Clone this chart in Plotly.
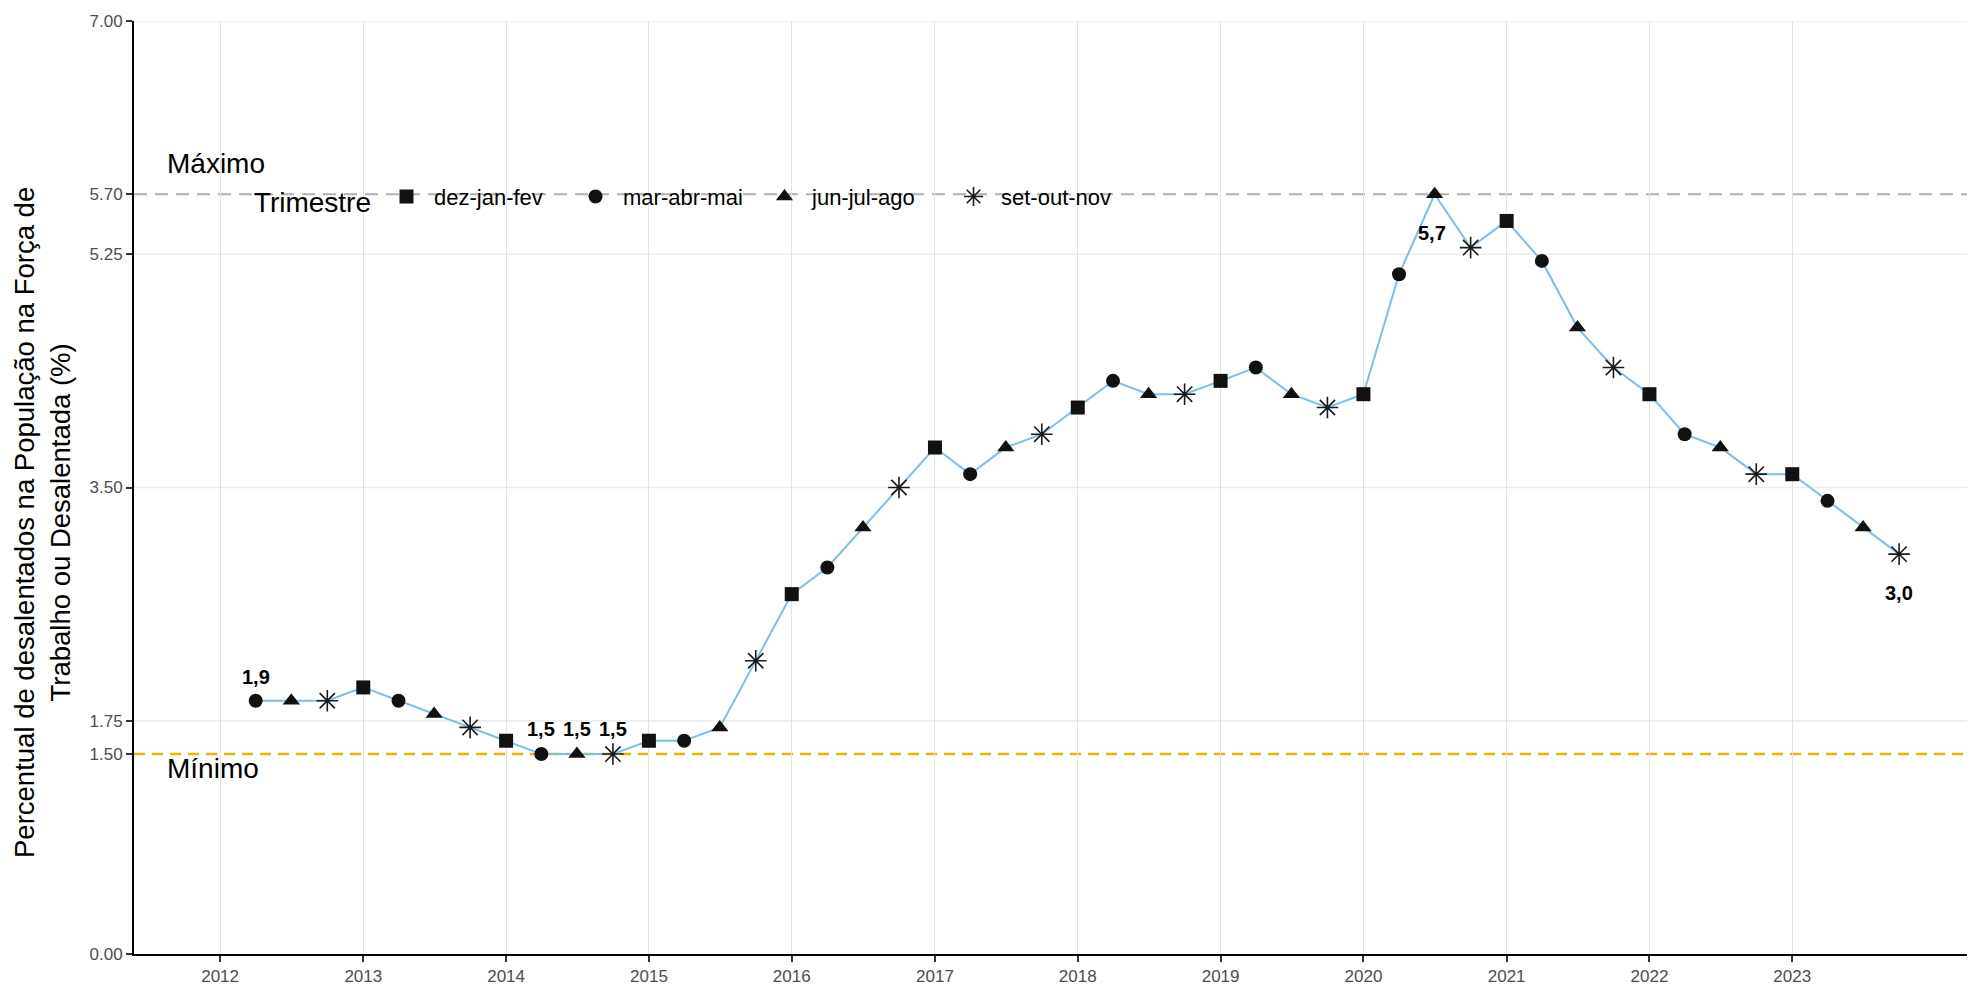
import plotly.graph_objects as go

# ---------------- data ----------------
datas = [
    "2012-04-01", "2012-07-01", "2012-10-01",
    "2013-01-01", "2013-04-01", "2013-07-01", "2013-10-01",
    "2014-01-01", "2014-04-01", "2014-07-01", "2014-10-01",
    "2015-01-01", "2015-04-01", "2015-07-01", "2015-10-01",
    "2016-01-01", "2016-04-01", "2016-07-01", "2016-10-01",
    "2017-01-01", "2017-04-01", "2017-07-01", "2017-10-01",
    "2018-01-01", "2018-04-01", "2018-07-01", "2018-10-01",
    "2019-01-01", "2019-04-01", "2019-07-01", "2019-10-01",
    "2020-01-01", "2020-04-01", "2020-07-01", "2020-10-01",
    "2021-01-01", "2021-04-01", "2021-07-01", "2021-10-01",
    "2022-01-01", "2022-04-01", "2022-07-01", "2022-10-01",
    "2023-01-01", "2023-04-01", "2023-07-01", "2023-10-01",
]
valores = [
    1.9, 1.9, 1.9,
    2.0, 1.9, 1.8, 1.7,
    1.6, 1.5, 1.5, 1.5,
    1.6, 1.6, 1.7, 2.2,
    2.7, 2.9, 3.2, 3.5,
    3.8, 3.6, 3.8, 3.9,
    4.1, 4.3, 4.2, 4.2,
    4.3, 4.4, 4.2, 4.1,
    4.2, 5.1, 5.7, 5.3,
    5.5, 5.2, 4.7, 4.4,
    4.2, 3.9, 3.8, 3.6,
    3.6, 3.4, 3.2, 3.0,
]
trimestres = ["dez-jan-fev", "mar-abr-mai", "jun-jul-ago", "set-out-nov"]
mes_trimestre = {1: "dez-jan-fev", 4: "mar-abr-mai", 7: "jun-jul-ago", 10: "set-out-nov"}
anos = list(range(2012, 2024))
y_ticks = [0.0, 1.5, 1.75, 3.5, 5.25, 5.7, 7.0]
rotulos_idx = [0, 8, 9, 10, 33, 46]

# ---------------- styles ----------------
FONT = "Liberation Sans, Arial, sans-serif"
simbolos = {"dez-jan-fev": "square", "mar-abr-mai": "circle",
            "jun-jul-ago": "triangle-up", "set-out-nov": "asterisk-open"}
tamanhos = {"dez-jan-fev": 14, "mar-abr-mai": 14, "jun-jul-ago": 15, "set-out-nov": 18}
rotulo_shift = {0: (0, 24), 8: (0, 25), 9: (0, 25), 10: (0, 25), 33: (-3, -39), 46: (0, -39)}

fig = go.Figure()

vmax = max(valores)
vmin = min(valores)

# horizontal grid lines (except where the reference lines sit)
for g in y_ticks:
    if g not in (0.0, vmax, vmin):
        fig.add_shape(type="line", xref="paper", x0=0, x1=1, yref="y", y0=g, y1=g,
                      line=dict(color="#ececec", width=1.5), layer="below")

# reference lines
fig.add_shape(type="line", xref="paper", x0=0, x1=1, yref="y", y0=vmax, y1=vmax,
              line=dict(color="#b0b0b0", width=2, dash="13px,8px"), layer="below")
fig.add_shape(type="line", xref="paper", x0=0, x1=1, yref="y", y0=vmin, y1=vmin,
              line=dict(color="#efb300", width=2.4, dash="11px,7px"), layer="below")

# line through all points
fig.add_trace(go.Scatter(x=datas, y=valores, mode="lines",
                         line=dict(color="#7cbfe8", width=2),
                         showlegend=False, hoverinfo="skip"))

for t in trimestres:
    xs = [d for d in datas if mes_trimestre[int(d[5:7])] == t]
    ys = [v for d, v in zip(datas, valores) if mes_trimestre[int(d[5:7])] == t]
    if simbolos[t] == "asterisk-open":
        marker = dict(symbol=simbolos[t], size=tamanhos[t], color="#1a1a1a",
                      line=dict(color="#1a1a1a", width=1.6))
    else:
        marker = dict(symbol=simbolos[t], size=tamanhos[t], color="#111111",
                      line=dict(width=0))
    fig.add_trace(go.Scatter(x=xs, y=ys, mode="markers", name=t, marker=marker))

fig.add_annotation(text="Máximo", xref="paper", x=0.017, xanchor="left",
                   yref="y", y=vmax, yshift=31, showarrow=False,
                   font=dict(family=FONT, size=28, color="#000000"))
fig.add_annotation(text="Mínimo", xref="paper", x=0.017, xanchor="left",
                   yref="y", y=vmin, yshift=-14, showarrow=False,
                   font=dict(family=FONT, size=28, color="#000000"))

# value labels
for i in rotulos_idx:
    dx, dy = rotulo_shift[i]
    fig.add_annotation(text=f"{valores[i]:.1f}".replace(".", ","),
                       x=datas[i], y=valores[i], xshift=dx, yshift=dy,
                       showarrow=False,
                       font=dict(family=FONT, size=20, color="#000000", weight="bold"))

# y-axis title
fig.add_annotation(text="Percentual de desalentados na População na Força de<br>Trabalho ou Desalentada (%)",
                   xref="paper", x=-0.05, xanchor="center",
                   yref="paper", y=0.463, yanchor="middle",
                   textangle=-90, showarrow=False,
                   font=dict(family=FONT, size=27.5, color="#000000"))

fig.update_layout(
    width=1967, height=979,
    margin=dict(l=126, r=0, t=13, b=33),
    paper_bgcolor="white", plot_bgcolor="white",
    font=dict(family=FONT),
    legend=dict(orientation="h", x=0.064, xanchor="left", y=0.809, yanchor="middle",
                title=dict(text="Trimestre", side="left", font=dict(size=28, color="#000000")),
                font=dict(size=22, color="#000000"),
                bgcolor="rgba(0,0,0,0)", entrywidth=129, itemwidth=45, itemsizing="trace"),
    xaxis=dict(type="date", range=["2011-05-26", "2024-04-12"],
               tickvals=[f"{a}-01-01" for a in anos], ticktext=[str(a) for a in anos],
               showgrid=True, gridcolor="#e3e3e3", gridwidth=1.3,
               showline=True, linecolor="#000000", linewidth=2,
               ticks="outside", ticklen=6, tickcolor="#333333", tickwidth=1.5,
               tickfont=dict(size=17, color="#4d4d4d"), zeroline=False),
    yaxis=dict(range=[0, 7], tickvals=y_ticks, ticktext=[f"{v:.2f}" for v in y_ticks],
               showgrid=False,
               showline=True, linecolor="#000000", linewidth=2,
               ticks="outside", ticklen=6, tickcolor="#333333", tickwidth=1.5,
               tickfont=dict(size=17, color="#4d4d4d"), zeroline=False),
)

fig.write_html("out.html")
